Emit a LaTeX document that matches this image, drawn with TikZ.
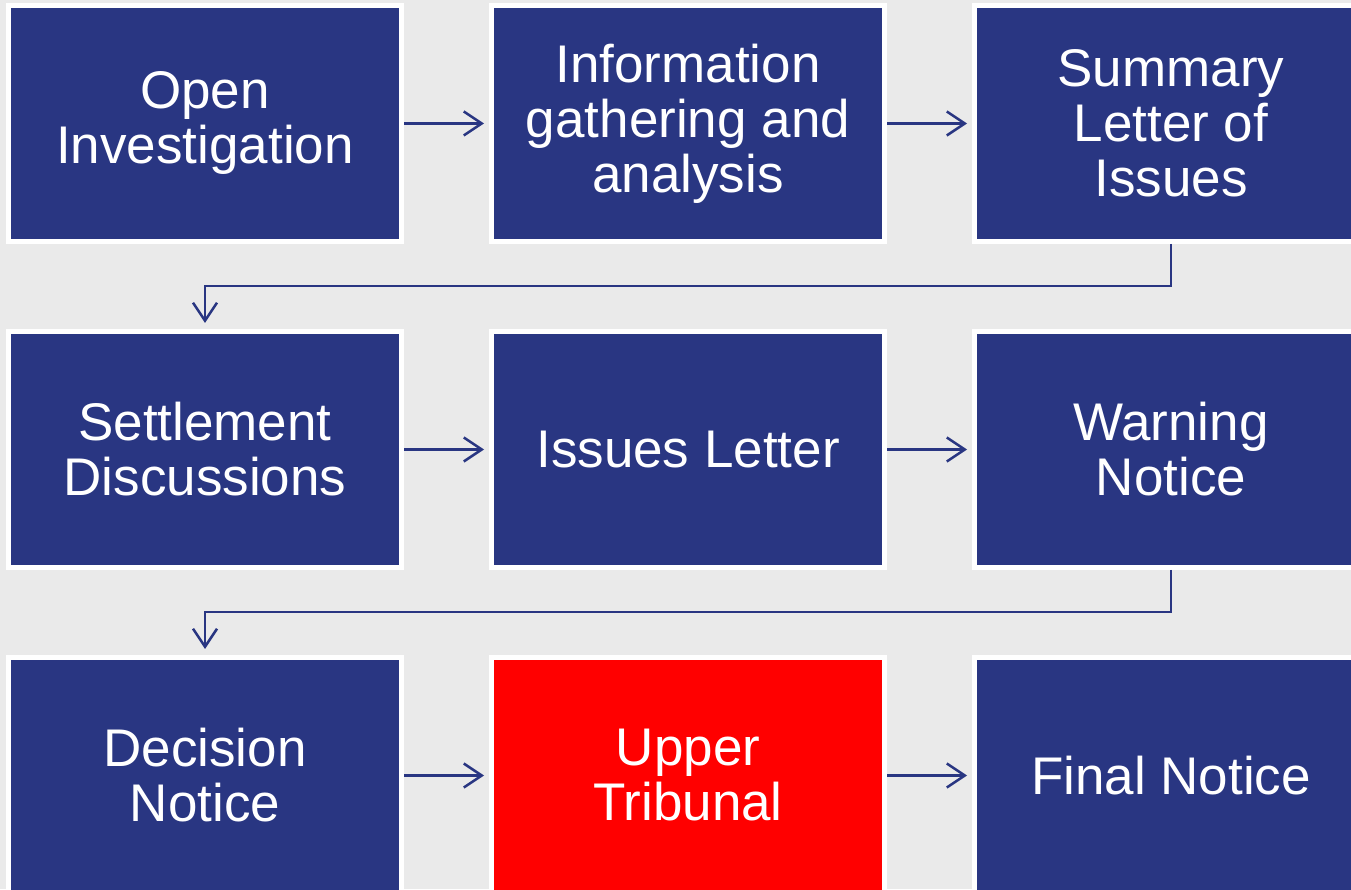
\documentclass[tikz,border=0pt]{standalone}
\usepackage{fontspec}
\setmainfont{Liberation Sans}
\usetikzlibrary{arrows.meta}
\definecolor{boxblue}{RGB}{41,54,130}
\definecolor{bg}{RGB}{234,234,234}
\definecolor{tred}{RGB}{255,0,0}
\tikzset{
  stepbox/.style={draw=white, line width=5pt, fill=boxblue, minimum width=393pt, minimum height=236pt,
    inner sep=0pt, align=center, text=white, font=\fontsize{53}{55}\selectfont},
  redbox/.style={stepbox, fill=tred},
  flow/.style={draw=boxblue, line width=2.5pt, -{Straight Barb[length=18pt,width=24pt]}, shorten >=5pt}
}
\begin{document}
\begin{tikzpicture}[x=1pt,y=1pt]
\useasboundingbox (0,0) rectangle (1351,889);
\clip (0,0) rectangle (1351,889);
\fill[bg] (0,0) rectangle (1351,889);
\node[stepbox] (a) at (205,765.5) {Open\\Investigation};
\node[stepbox] (b) at (688,765.5) {Information\\gathering and\\analysis};
\node[stepbox] (c) at (1171,765.5) {Summary\\Letter of\\Issues};
\node[stepbox] (d) at (205,439.5) {Settlement\\Discussions};
\node[stepbox] (e) at (688,439.5) {Issues Letter};
\node[stepbox] (f) at (1171,439.5) {Warning\\Notice};
\node[stepbox] (g) at (205,113.5) {Decision\\Notice};
\node[redbox] (h) at (688,113.5) {Upper\\Tribunal};
\node[stepbox] (i) at (1171,113.5) {Final Notice};
\draw[flow] (a.east) -- (b.west);
\draw[flow] (b.east) -- (c.west);
\draw[flow] (d.east) -- (e.west);
\draw[flow] (e.east) -- (f.west);
\draw[flow] (g.east) -- (h.west);
\draw[flow] (h.east) -- (i.west);
\draw[flow, shorten >=6pt] (c.south) -- ++(0,-42) -| (d.north);
\draw[flow, shorten >=6pt] (f.south) -- ++(0,-42) -| (g.north);
\end{tikzpicture}
\end{document}
